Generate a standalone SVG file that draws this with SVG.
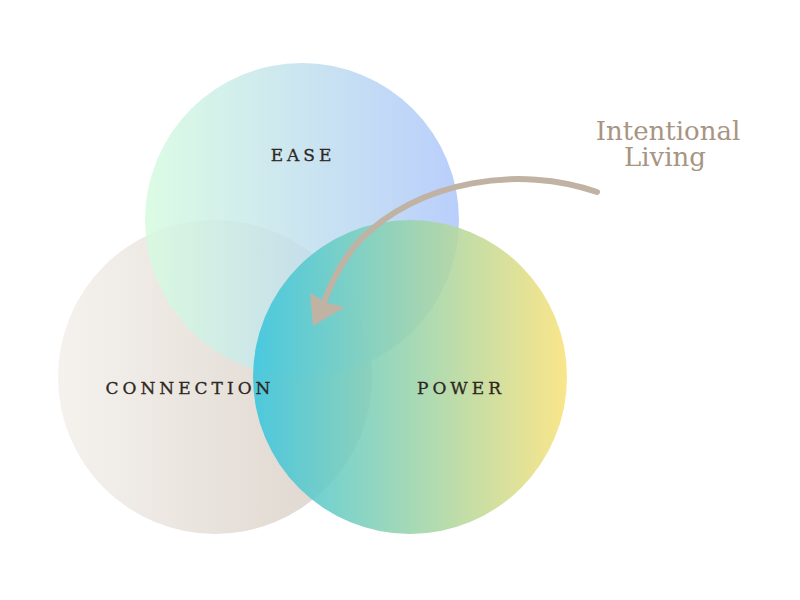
<svg xmlns="http://www.w3.org/2000/svg" width="800" height="600" viewBox="0 0 800 600">
<defs>
<linearGradient id="gE" x1="0" x2="1" y1="0" y2="0"><stop offset="0" stop-color="#d6fbe0"/><stop offset="1" stop-color="#adc6fb"/></linearGradient>
<linearGradient id="gC" x1="0" x2="1" y1="0" y2="0"><stop offset="0" stop-color="#f5f2ee"/><stop offset="1" stop-color="#dcd3cb"/></linearGradient>
<linearGradient id="gP" x1="0" x2="1" y1="0" y2="0"><stop offset="0" stop-color="#38c5de"/><stop offset="1" stop-color="#f9e27b"/></linearGradient>
<style>.lbl{font-family:"DejaVu Serif","Liberation Serif",serif;font-size:17px;letter-spacing:4px;fill:#2e281e;text-anchor:middle;stroke:#2e281e;stroke-width:0.3px}</style>
</defs>
<rect width="800" height="600" fill="#fff"/>
<g id="connection"><circle cx="215" cy="377" r="157" fill="url(#gC)"/></g>
<g id="ease"><circle cx="302" cy="220" r="157" fill="url(#gE)" opacity="0.85"/></g>
<g id="power"><circle cx="410" cy="377" r="157" fill="url(#gP)" opacity="0.88"/></g>
<text class="lbl" x="303" y="161">EASE</text>
<text class="lbl" x="190" y="394">CONNECTION</text>
<text class="lbl" x="461" y="394">POWER</text>
<g id="connectors">
<path d="M597,192 C520,165 420,180 360,240 C340,262 330,285 323,305" fill="none" stroke="#c1b3a3" stroke-width="6" stroke-linecap="round"/>
<path d="M310,293 L313,326 L345,307 L327,303 Z" fill="#c1b3a3"/>
</g>
<g id="label">
<text font-family="DejaVu Serif,Liberation Serif,serif" font-size="26" fill="#a89483" text-anchor="middle"><tspan x="668" y="140">Intentional</tspan><tspan x="665" y="166">Living</tspan></text>
</g>
</svg>
